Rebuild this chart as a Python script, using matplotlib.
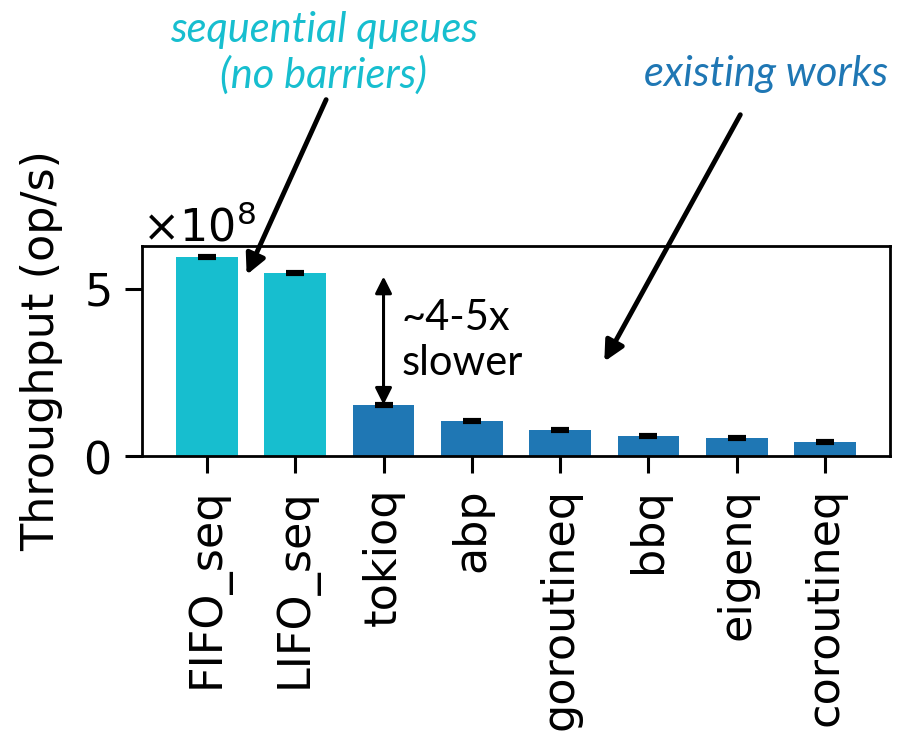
import numpy as np
import matplotlib.pyplot as plt
from matplotlib.ticker import ScalarFormatter

# throughput of each queue, in units of 1e8 op/s
queues = ['FIFO_seq', 'LIFO_seq', 'tokioq', 'abp', 'goroutineq', 'bbq', 'eigenq', 'coroutineq']
throughput = [5.95, 5.47, 1.51, 1.05, 0.78, 0.60, 0.54, 0.41]
errs = [0.03, 0.03, 0.03, 0.03, 0.03, 0.03, 0.03, 0.03]
is_seq = [True, True, False, False, False, False, False, False]

cyan = '#17becf'
blue = '#1f77b4'
colors = [cyan if s else blue for s in is_seq]

fig = plt.figure(figsize=(8.97, 7.36), dpi=100)
ax = fig.add_axes([142 / 897, 1 - 456 / 736, (890 - 142) / 897, (456 - 245.7) / 736])

x = np.arange(len(queues))
ax.bar(x, np.array(throughput) * 1e8, width=0.7, color=colors,
       yerr=np.array(errs) * 1e8, capsize=6.5,
       error_kw=dict(ecolor='black', elinewidth=2.5, capthick=3))

ax.set_xticks(x)
ax.set_xticklabels(queues, rotation=90, fontsize=32)
ax.set_yticks([0, 5e8])
fmt = ScalarFormatter(useMathText=True)
ax.yaxis.set_major_formatter(fmt)
ax.tick_params(axis='y', labelsize=32)
ax.tick_params(length=12, width=2.2, pad=11)
ax.yaxis.get_offset_text().set_fontsize(32)
ax.set_ylabel('Throughput (op/s)', fontsize=32, labelpad=14)
for sp in ax.spines.values():
    sp.set_linewidth(2)

# annotations
ax.annotate('', xy=(2, 5.36e8), xytext=(2, 1.53e8),
            arrowprops=dict(arrowstyle='<|-|>', lw=2.2, color='black',
                            mutation_scale=25, shrinkA=0, shrinkB=0))
ax.text(2.2, 3.45e8, '~4-5x\nslower', fontsize=30, family='Lato',
        ha='left', va='center', linespacing=1.25)

ax.annotate('', xy=(0.45, 5.41e8), xytext=(1.35, 10.64e8),
            arrowprops=dict(arrowstyle='-|>', lw=3.5, color='black',
                            mutation_scale=30, shrinkA=0, shrinkB=0),
            annotation_clip=False)
ax.annotate('', xy=(4.5, 2.82e8), xytext=(6.04, 10.19e8),
            arrowprops=dict(arrowstyle='-|>', lw=3.5, color='black',
                            mutation_scale=30, shrinkA=0, shrinkB=0),
            annotation_clip=False)

fig.text(324 / 897, 1 - 53 / 736, 'sequential queues\n(no barriers)', fontsize=30,
         family='Lato', style='italic', color=cyan, ha='center', va='center',
         linespacing=1.2)
fig.text(766 / 897, 1 - 74 / 736, 'existing works', fontsize=30,
         family='Lato', style='italic', color=blue, ha='center', va='center')

fig.savefig('out.png', dpi=100)
